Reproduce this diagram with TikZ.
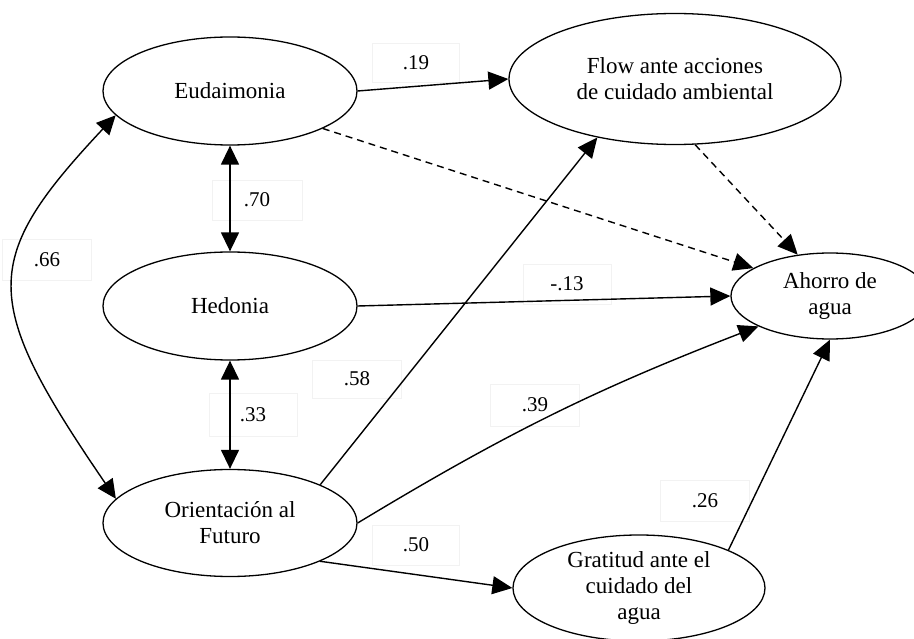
\documentclass[tikz,border=0pt]{standalone}
\usepackage{fontspec}
\setmainfont{Liberation Serif}
\usetikzlibrary{shapes.geometric,arrows.meta}
\begin{document}
\begin{tikzpicture}[x=1pt,y=-1pt,
  latent/.style={ellipse,draw,line width=1.3pt,inner sep=0pt,align=center,
    font=\fontsize{23}{26}\selectfont},
  lbl/.style={draw=black!5,line width=0.6pt,inner sep=0pt,font=\fontsize{21}{24}\selectfont},
  path/.style={line width=1.4pt,-{Triangle[length=20pt,width=18pt]}},
  bipath/.style={line width=1.4pt,{Triangle[length=19pt,width=18pt]}-{Triangle[length=19pt,width=18pt]}},
  dpath/.style={path,dash pattern=on 7pt off 5pt}]
\useasboundingbox (0,0) rectangle (914,639);
% latent variables
\node[latent,minimum width=254pt,minimum height=108pt] (eud) at (230,91) {Eudaimonia};
\node[latent,minimum width=254pt,minimum height=108pt] (hed) at (230,306) {Hedonia};
\node[latent,minimum width=254pt,minimum height=107pt] (ori) at (230,523) {Orientación al\\Futuro};
\node[latent,minimum width=332pt,minimum height=131pt] (flow) at (675,79) {Flow ante acciones\\de cuidado ambiental};
\node[latent,minimum width=198pt,minimum height=86pt] (aho) at (830,296) {Ahorro de\\agua};
\node[latent,minimum width=252pt,minimum height=106pt] (gra) at (639,588) {Gratitud ante el\\cuidado del\\agua};
% label boxes
\node[lbl,minimum width=87pt,minimum height=39pt] (l19) at (416,63) {.19};
\node[lbl,minimum width=90pt,minimum height=40pt] (l70) at (257,200) {.70};
\node[lbl,minimum width=89pt,minimum height=41pt] (l66) at (47,260) {.66};
\node[lbl,minimum width=88pt,minimum height=40pt] (l13) at (567,284) {-.13};
\node[lbl,minimum width=89pt,minimum height=38pt] (l58) at (357,379) {.58};
\node[lbl,minimum width=88pt,minimum height=43pt] (l33) at (253,415) {.33};
\node[lbl,minimum width=89pt,minimum height=42pt] (l39) at (535,405) {.39};
\node[lbl,minimum width=87pt,minimum height=40pt] (l50) at (416,545) {.50};
\node[lbl,minimum width=89pt,minimum height=41pt] (l26) at (705,501) {.26};
% connectors
\draw[path] (eud.east) -- (flow.west);
\draw[dpath] (eud.-22) -- (aho.160);
\draw[dpath] (flow.-73) -- (aho.128);
\draw[bipath] (eud.south) -- (hed.north);
\draw[bipath] (hed.south) -- (ori.north);
\draw[path] (hed.east) -- (aho.west);
\draw[path] (ori.23) -- (flow.-143);
\draw[path] (ori.east) to[bend left=5] (aho.203);
\draw[path] (ori.-23) -- (gra.west);
\draw[path] (gra.23) -- (aho.south);
\draw[bipath] (eud.192) .. controls (-20,260) and (-20,300) .. (ori.168);
\end{tikzpicture}
\end{document}
